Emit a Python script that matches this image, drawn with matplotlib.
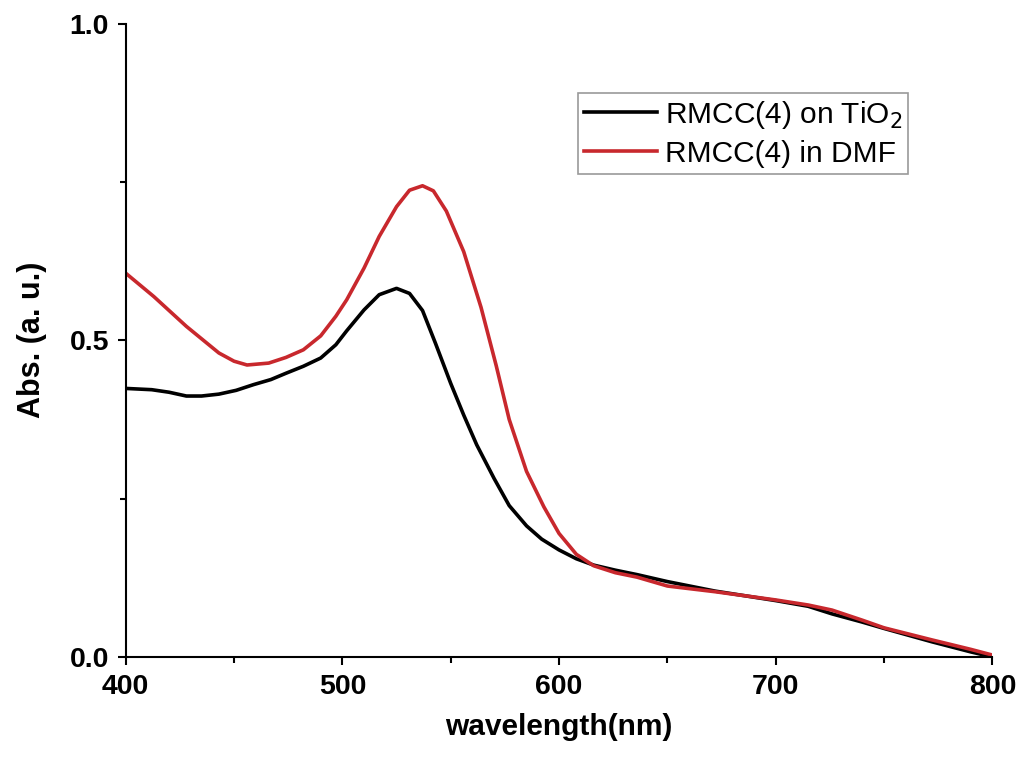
"""UV-vis absorption spectra of RMCC(4) on TiO2 and in DMF."""
import matplotlib
matplotlib.use("Agg")
import matplotlib.pyplot as plt
from matplotlib.ticker import MultipleLocator

plt.rcParams["font.family"] = ["Liberation Sans", "DejaVu Sans"]

# spectra
wl_tio2 = [400, 412, 420, 428, 435, 443, 451, 459, 467, 474, 482, 490, 497, 502,
           510, 517, 525, 531, 537, 543, 550, 556, 562, 570, 577, 585, 592, 600,
           608, 616, 626, 636, 650, 672, 700, 715, 726, 740, 750, 772, 790, 800]
abs_tio2 = [0.424, 0.422, 0.418, 0.412, 0.412, 0.415, 0.421, 0.430, 0.438,
            0.448, 0.459, 0.472, 0.493, 0.515, 0.548, 0.572, 0.582, 0.574,
            0.547, 0.495, 0.432, 0.382, 0.335, 0.282, 0.239, 0.207, 0.186,
            0.169, 0.155, 0.145, 0.137, 0.130, 0.119, 0.104, 0.089, 0.080,
            0.068, 0.055, 0.045, 0.024, 0.008, 0.0]

wl_dmf = [400, 413, 428, 443, 450, 456, 466, 474, 482, 490, 497, 502, 510, 517,
          525, 531, 537, 542, 548, 556, 564, 571, 577, 585, 593, 600, 608, 616,
          626, 636, 650, 672, 700, 715, 726, 740, 750, 772, 790, 800]
abs_dmf = [0.606, 0.569, 0.522, 0.480, 0.467, 0.461, 0.464, 0.473, 0.485,
           0.507, 0.538, 0.564, 0.614, 0.664, 0.711, 0.737, 0.744, 0.736,
           0.704, 0.640, 0.552, 0.460, 0.375, 0.293, 0.237, 0.195, 0.162,
           0.144, 0.133, 0.126, 0.112, 0.103, 0.090, 0.082, 0.074, 0.058,
           0.046, 0.027, 0.012, 0.003]

fig = plt.figure(figsize=(10.22, 7.63), dpi=100)
ax = fig.add_axes([0.123, 0.139, 0.848, 0.830])

ax.plot(wl_tio2, abs_tio2, color="black", lw=2.6, label="RMCC(4) on TiO$_2$")
ax.plot(wl_dmf, abs_dmf, color="#c8282d", lw=2.6, label="RMCC(4) in DMF")

ax.set_xlim(400, 800)
ax.set_ylim(0, 1.0)
ax.xaxis.set_major_locator(MultipleLocator(100))
ax.xaxis.set_minor_locator(MultipleLocator(50))
ax.yaxis.set_major_locator(MultipleLocator(0.5))
ax.yaxis.set_minor_locator(MultipleLocator(0.25))

for side in ("top", "right"):
    ax.spines[side].set_visible(False)
for side in ("left", "bottom"):
    ax.spines[side].set_linewidth(1.5)
ax.tick_params(which="major", direction="out", length=6, width=1.5,
               labelsize=20.5, pad=6)
ax.tick_params(which="minor", direction="out", length=4, width=1.5)
for lab in ax.get_xticklabels() + ax.get_yticklabels():
    lab.set_fontweight("bold")

ax.set_xlabel("wavelength(nm)", fontsize=21.5, fontweight="bold", labelpad=10)
ax.set_ylabel("Abs. (a. u.)", fontsize=22, fontweight="bold", labelpad=16)

leg = ax.legend(loc="upper right", bbox_to_anchor=(0.903, 0.891), fontsize=21.5,
                frameon=True, fancybox=False, edgecolor="#808080",
                handlelength=2.45, handletextpad=0.25, borderpad=0.2,
                borderaxespad=0, labelspacing=0.3)
leg.get_frame().set_linewidth(1.2)

fig.savefig("out.png", dpi=100)
